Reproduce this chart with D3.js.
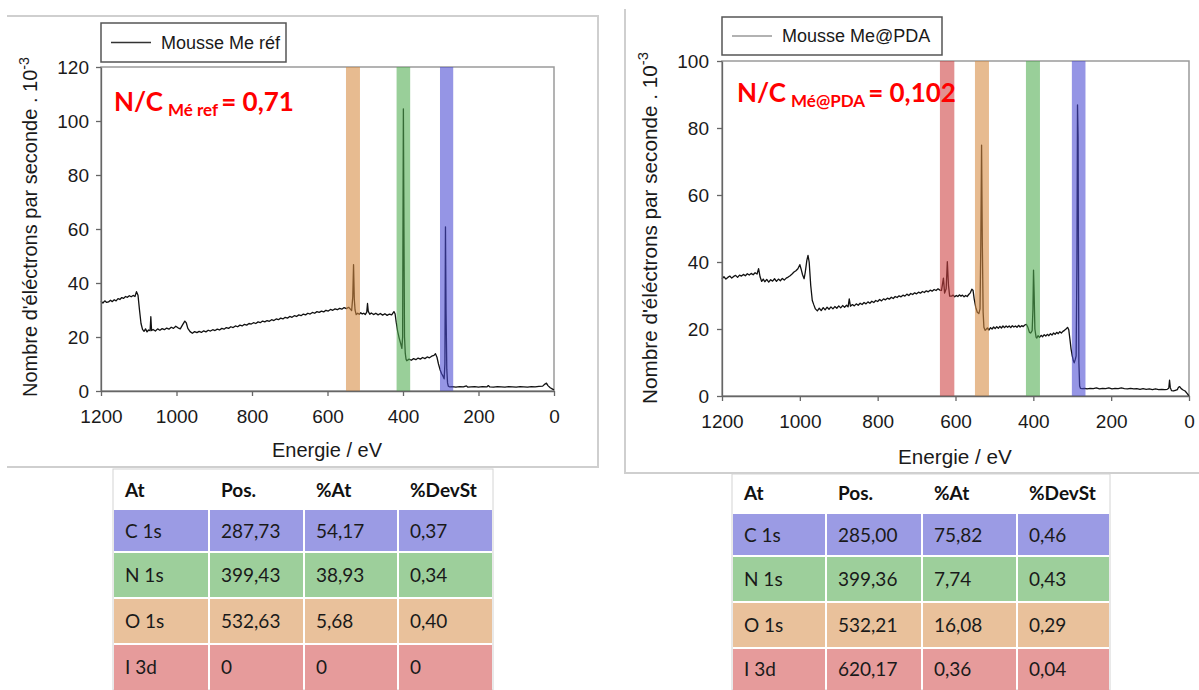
<!DOCTYPE html>
<html><head><meta charset="utf-8">
<script src="https://cdn.jsdelivr.net/npm/d3@7"></script>
<style>body{margin:0;background:#fff}</style></head>
<body><svg id="c" width="1199" height="690"></svg>
<script>
// ---------- data ----------
const energyTicks = [1200, 1000, 800, 600, 400, 200, 0];
const refCountTicks = [0, 20, 40, 60, 80, 100, 120];
const pdaCountTicks = [0, 20, 40, 60, 80, 100];

const refLegend = "Mousse Me réf";
const pdaLegend = "Mousse Me@PDA";

// [energy eV, counts x10^-3]
const refSpectrum = [
[1200,33.2],[1195,32.6],[1190,33.4],[1185,32.8],[1180,33.0],[1175,33.6],[1170,33.1],[1165,33.8],[1160,33.4],[1155,34.2],
[1150,33.9],[1145,34.6],[1140,34.3],[1135,35.0],[1130,34.7],[1125,35.3],[1120,34.9],[1115,35.4],[1110,35.0],[1106,36.8],
[1102,35.5],[1098,30.0],[1094,25.0],[1090,22.8],[1086,22.1],[1082,23.0],[1078,21.9],[1074,22.6],[1070,22.3],[1068,27.5],
[1066,22.4],[1062,22.8],[1056,22.2],[1050,23.0],[1044,22.5],[1038,23.1],[1032,22.7],[1026,23.3],[1020,22.9],[1014,23.6],
[1008,23.2],[1002,24.0],[996,23.4],[990,23.0],[984,24.5],[978,25.9],[974,25.2],[970,23.2],[964,22.0],[958,21.4],
[952,22.0],[946,21.6],[940,22.1],[934,21.7],[928,22.3],[922,21.9],[916,22.5],[910,22.2],[904,22.7],[898,22.4],
[892,22.9],[886,22.6],[880,23.2],[874,22.9],[868,23.5],[862,23.2],[856,23.8],[850,23.5],[844,24.1],[838,23.8],
[832,24.4],[826,24.1],[820,24.7],[814,24.4],[808,25.0],[802,24.8],[796,25.3],[790,25.0],[784,25.6],[778,25.3],
[772,25.9],[766,25.6],[760,26.1],[754,25.8],[748,26.4],[742,26.1],[736,26.7],[730,26.4],[724,27.0],[718,26.7],
[712,27.3],[706,27.0],[700,27.6],[694,27.3],[688,27.9],[682,27.6],[676,28.2],[670,27.9],[664,28.5],[658,28.2],
[652,28.8],[646,28.5],[640,29.1],[634,28.8],[628,29.4],[622,29.1],[616,29.6],[610,29.3],[604,29.9],[598,29.6],
[592,30.2],[586,29.9],[580,30.4],[574,30.1],[568,30.6],[562,30.3],[556,30.9],[550,30.5],[544,31.0],[540,30.4],
[536,29.8],[533,35.0],[531,46.8],[529,34.0],[527,30.0],[524,28.3],[520,28.8],[516,28.4],[512,29.0],[508,28.5],
[504,28.8],[500,28.3],[496,29.2],[494,32.4],[492,29.5],[488,28.4],[484,28.9],[478,28.3],[472,28.8],[466,28.2],
[460,28.7],[454,28.1],[448,28.6],[442,28.0],[436,28.5],[430,28.2],[424,29.4],[421,28.6],[418,25.5],[414,22.0],
[410,19.5],[406,17.5],[403,15.8],[401,20.0],[399,104.5],[397.5,60.0],[396,20.0],[394,14.0],[392,11.8],[390,11.2],
[384,11.8],[378,11.4],[372,12.0],[366,11.6],[360,12.2],[354,11.8],[348,12.4],[342,12.0],[336,12.6],[330,12.3],
[324,12.9],[318,13.2],[314,13.8],[310,12.5],[306,10.0],[302,8.0],[298,6.5],[294,5.5],[291,4.5],[289,10.0],
[287.5,60.8],[286,30.0],[284,8.0],[282,3.0],[280,1.8],[276,1.5],[270,1.6],[260,1.4],[250,1.6],[240,1.5],
[232,1.9],[228,1.4],[220,1.5],[210,1.6],[200,1.4],[190,1.6],[178,1.5],[174,2.0],[170,1.5],[160,1.4],
[150,1.6],[140,1.5],[130,1.4],[120,1.6],[110,1.5],[100,1.4],[90,1.6],[80,1.5],[70,1.4],[60,1.6],
[50,1.5],[40,1.7],[30,1.8],[24,2.6],[20,2.9],[16,2.0],[10,1.2],[5,0.8],[0,0.4]
];

const pdaSpectrum = [
[1200,35.0],[1195,35.6],[1190,34.9],[1185,35.4],[1180,35.8],[1175,35.2],[1170,35.7],[1165,36.0],[1160,35.4],[1155,36.1],
[1150,35.8],[1145,36.3],[1140,35.9],[1135,36.5],[1130,36.1],[1125,36.6],[1120,36.2],[1115,36.8],[1110,36.4],[1106,38.0],
[1102,35.5],[1098,34.2],[1094,34.9],[1090,34.1],[1085,34.8],[1080,34.0],[1075,34.7],[1070,34.3],[1065,35.0],[1060,34.2],
[1055,34.9],[1050,34.4],[1045,35.1],[1040,34.6],[1035,35.2],[1030,35.5],[1025,35.9],[1020,36.4],[1015,37.0],[1010,37.4],
[1005,38.0],[1000,39.2],[997,38.0],[993,36.2],[989,35.0],[986,37.0],[982,40.5],[979,42.0],[976,40.0],[972,33.0],
[968,28.5],[964,27.2],[960,26.0],[955,25.4],[950,26.2],[945,25.5],[940,26.4],[935,25.7],[930,26.5],[925,25.9],
[920,26.6],[915,26.0],[910,26.7],[905,26.2],[900,26.9],[895,26.3],[890,27.0],[885,26.5],[880,27.1],[876,26.6],
[873,29.0],[870,26.8],[865,27.3],[860,26.9],[855,27.5],[850,27.1],[845,27.7],[840,27.3],[835,27.9],[830,27.5],
[825,28.1],[820,27.7],[815,28.3],[810,27.9],[805,28.5],[800,28.2],[795,28.8],[790,28.4],[785,29.0],[780,28.7],
[775,29.2],[770,28.9],[765,29.5],[760,29.1],[755,29.7],[750,29.4],[745,29.9],[740,29.6],[735,30.1],[730,29.8],
[725,30.4],[720,30.0],[715,30.6],[710,30.3],[705,30.8],[700,30.5],[695,31.0],[690,30.7],[685,31.2],[680,30.9],
[675,31.4],[670,31.1],[665,31.6],[660,31.3],[655,31.8],[650,31.5],[645,32.0],[640,31.6],[636,31.5],[631,35.2],
[628,30.7],[624,32.0],[621,40.1],[618,33.0],[615,29.8],[610,29.8],[606,30.1],[602,29.6],[598,30.0],[594,29.7],
[590,30.2],[586,29.8],[582,30.1],[578,29.6],[574,30.0],[570,29.7],[566,30.3],[562,30.8],[558,31.9],[555,31.6],
[552,29.0],[548,26.5],[544,25.0],[540,24.6],[537,26.0],[535,45.0],[533,74.9],[531,45.0],[529,25.0],[527,20.5],
[524,19.6],[522,19.8],[518,20.3],[514,19.7],[510,20.4],[506,20.0],[502,20.6],[498,20.1],[494,20.7],[490,20.2],
[486,20.8],[482,20.3],[478,20.9],[474,20.4],[470,20.9],[466,20.5],[462,20.9],[458,20.4],[454,21.0],[450,20.6],
[446,20.9],[442,20.5],[438,21.1],[434,20.6],[430,21.0],[426,20.7],[422,21.2],[418,21.4],[414,20.5],[410,19.0],
[407,18.8],[403,19.5],[401,26.0],[399.5,37.6],[398,31.0],[396,20.0],[393,17.6],[391,17.3],[388,18.0],[384,17.5],
[380,18.1],[376,17.7],[372,18.3],[368,17.9],[364,18.4],[360,18.0],[356,18.6],[352,18.2],[348,18.8],[344,18.4],
[340,19.0],[336,18.6],[332,19.2],[328,18.8],[324,19.3],[320,19.6],[316,20.0],[312,20.5],[309,19.8],[306,17.0],
[303,14.0],[300,12.0],[297,10.5],[295,9.9],[292,11.0],[290,12.0],[288,40.0],[286.5,86.9],[285,77.4],[284,40.0],
[283,10.0],[281,3.0],[279,2.3],[274,2.2],[268,2.3],[262,2.1],[254,2.3],[246,2.2],[238,2.4],[230,2.1],
[222,2.3],[214,2.2],[206,2.4],[198,2.1],[190,2.3],[182,2.2],[174,2.4],[166,2.2],[158,2.1],[150,2.3],
[142,2.1],[134,2.2],[126,2.0],[118,2.2],[110,2.0],[102,2.1],[94,1.9],[86,2.1],[78,1.9],[70,2.0],
[62,1.9],[56,2.0],[52,2.3],[50,4.7],[48,2.5],[45,1.6],[40,1.5],[35,1.7],[30,1.9],[27,2.6],
[24,2.8],[20,2.2],[15,1.8],[10,1.5],[5,0.8],[0,0.0]
];

// highlighted energy windows [low eV, high eV] per element
const refBandElements = ["O", "N", "C"];
const refBandRanges = [[514, 551], [381, 417], [267, 302]];
const pdaBandElements = ["I", "O", "N", "C"];
const pdaBandRanges = [[603, 640], [514, 550], [383, 419], [266, 301]];

const elementColors = {C: "rgb(72,72,210)", N: "rgb(80,172,80)", O: "rgb(213,138,63)", I: "rgb(205,63,63)"};
const rowColors = ["#9b9be4", "#9dcf9b", "#e9c19b", "#e69b9b"];

const tableHeader = ["At", "Pos.", "%At", "%DevSt"];
const tableAtoms = ["C 1s", "N 1s", "O 1s", "I 3d"];
const refPos = ["287,73", "399,43", "532,63", "0"];
const refPct = ["54,17", "38,93", "5,68", "0"];
const refDev = ["0,37", "0,34", "0,40", "0"];
const pdaPos = ["285,00", "399,36", "532,21", "620,17"];
const pdaPct = ["75,82", "7,74", "16,08", "0,36"];
const pdaDev = ["0,46", "0,43", "0,29", "0,04"];

const refRatio = {main: "N/C", sub: "Mé ref", value: "= 0,71"};
const pdaRatio = {main: "N/C", sub: "Mé@PDA", value: "= 0,102"};

const xTitle = "Energie / eV";
const yTitle = "Nombre d'éléctrons par seconde . 10";

// ---------- drawing ----------
const svg = d3.select("#c");
svg.append("rect").attr("width", 1199).attr("height", 690).attr("fill", "#fff");
const AX = "'Liberation Sans', Arial, sans-serif";
const CAL = "Lato, 'Open Sans', sans-serif";

// panel frames
const frame = svg.append("g").attr("stroke", "#cfcfcf").attr("stroke-width", 2).attr("fill", "none");
frame.append("path").attr("d", "M7,16H598V467H7");
frame.append("path").attr("d", "M625,9V473H1199");

function drawPanel(o) {
  const g = svg.append("g");
  const x = d3.scaleLinear().domain([1200, 0]).range(o.xr);
  const y = d3.scaleLinear().domain([0, o.ymax]).range(o.yr);

  g.append("rect").attr("x", o.xr[0]).attr("y", o.yr[1])
    .attr("width", o.xr[1] - o.xr[0]).attr("height", o.yr[0] - o.yr[1])
    .attr("fill", "none").attr("stroke", "#9a9a9a").attr("stroke-width", 1.5);

  const line = d3.line().x(d => x(d[0])).y(d => y(d[1]));
  g.append("path").datum(o.data).attr("d", line)
    .attr("fill", "none").attr("stroke", "#111").attr("stroke-width", 1.3).attr("stroke-linejoin", "round");

  g.selectAll("rect.band").data(o.bandRanges).join("rect").attr("class", "band")
    .attr("x", d => x(d[1])).attr("width", d => x(d[0]) - x(d[1]))
    .attr("y", o.yr[1]).attr("height", o.yr[0] - o.yr[1])
    .attr("fill", (d, i) => elementColors[o.bandEls[i]]).attr("opacity", 0.58);

  const xa = g.append("g").attr("transform", `translate(0,${o.yr[0]})`)
    .call(d3.axisBottom(x).tickValues(energyTicks).tickFormat(d3.format("d")).tickSize(5).tickSizeOuter(0).tickPadding(14));
  const ya = g.append("g").attr("transform", `translate(${o.xr[0]},0)`)
    .call(d3.axisLeft(y).tickValues(o.yTicks).tickSize(5).tickSizeOuter(0).tickPadding(o.ypad));
  [xa, ya].forEach(a => {
    a.selectAll("path,line").attr("stroke", "#666").attr("stroke-width", 1.3);
    a.selectAll("text").attr("font-family", AX).attr("font-size", o.tick).attr("fill", "#1a1a1a");
  });

  g.append("text").attr("x", o.xt[0]).attr("y", o.xt[1]).attr("text-anchor", "middle")
    .attr("font-family", AX).attr("font-size", o.title).attr("fill", "#1a1a1a").text(xTitle);
  const yt = g.append("text").attr("transform", `translate(${o.yt[0]},${o.yt[1]}) rotate(-90)`)
    .attr("text-anchor", "middle").attr("font-family", AX).attr("font-size", o.title).attr("fill", "#1a1a1a");
  yt.append("tspan").text(yTitle);
  yt.append("tspan").attr("font-size", o.title * 0.72).attr("dy", -o.title * 0.42).text("-3");

  const L = o.legend;
  g.append("rect").attr("x", L.x).attr("y", L.y).attr("width", L.w).attr("height", L.h)
    .attr("fill", "#fff").attr("stroke", "#555").attr("stroke-width", 1.5);
  g.append("line").attr("x1", L.x + 10).attr("x2", L.x + 50).attr("y1", L.y + L.h / 2).attr("y2", L.y + L.h / 2)
    .attr("stroke", L.color).attr("stroke-width", 1.5);
  g.append("text").attr("x", L.x + 60).attr("y", L.y + L.h / 2 + 6).attr("font-family", AX)
    .attr("font-size", 18).attr("fill", "#1a1a1a").text(L.text);

  const R = o.ratio;
  const t = g.append("text").attr("x", R.x).attr("y", R.y).attr("font-family", CAL)
    .attr("font-weight", 700).attr("fill", "#ff0000").attr("font-size", 26);
  t.append("tspan").text(R.d.main);
  t.append("tspan").attr("font-size", 17).attr("dx", 5).attr("dy", 5).text(R.d.sub);
  t.append("tspan").attr("dx", 3).attr("dy", -5).text(R.d.value);
}

drawPanel({
  data: refSpectrum, ymax: 120, yTicks: refCountTicks, xr: [101, 554], yr: [391, 67], ypad: 7,
  bandRanges: refBandRanges, bandEls: refBandElements, tick: 19, title: 20,
  xt: [327, 457], yt: [37, 227],
  legend: {x: 101, y: 23, w: 185, h: 39, text: refLegend, color: "#333"},
  ratio: {x: 114, y: 111, d: refRatio}
});
drawPanel({
  data: pdaSpectrum, ymax: 100, yTicks: pdaCountTicks, xr: [722, 1189], yr: [396, 61], ypad: 8,
  bandRanges: pdaBandRanges, bandEls: pdaBandElements, tick: 19, title: 20.7,
  xt: [955, 464], yt: [657, 228],
  legend: {x: 722, y: 17, w: 220, h: 38, text: pdaLegend, color: "#999"},
  ratio: {x: 737, y: 102, d: pdaRatio}
});

// ---------- tables ----------
function drawTable(o) {
  const g = svg.append("g");
  const cols = o.cols;
  g.append("rect").attr("x", cols[0]).attr("y", o.top).attr("width", cols[4] - cols[0]).attr("height", 690 - o.top)
    .attr("fill", "#fff").attr("stroke", "#d4d4d4").attr("stroke-width", 1);
  tableHeader.forEach((h, j) => {
    g.append("text").attr("x", cols[j] + 12).attr("y", o.headY).attr("font-family", CAL).attr("font-weight", 700)
      .attr("font-size", 19).attr("fill", "#111").text(h);
  });
  const rows = tableAtoms.map((a, i) => [a, o.pos[i], o.pct[i], o.dev[i]]);
  rows.forEach((r, i) => {
    const y0 = o.rowY[i], y1 = (i < 3 ? o.rowY[i + 1] : 692);
    r.forEach((v, j) => {
      g.append("rect").attr("x", cols[j] + 1).attr("y", y0).attr("width", cols[j + 1] - cols[j] - 2)
        .attr("height", y1 - y0 - 2).attr("fill", rowColors[i]);
      g.append("text").attr("x", cols[j] + 12).attr("y", y0 + (Math.min(y1, 690) - y0) / 2 + 6)
        .attr("font-family", CAL).attr("font-size", 19).attr("fill", "#1a1a1a").text(v);
    });
  });
}
drawTable({cols: [113, 209, 304, 398, 493], top: 469, headY: 497, rowY: [510, 553, 599, 645],
  pos: refPos, pct: refPct, dev: refDev});
drawTable({cols: [732, 826, 922, 1017, 1110], top: 474, headY: 500, rowY: [514, 557, 603, 649],
  pos: pdaPos, pct: pdaPct, dev: pdaDev});
</script></body></html>
